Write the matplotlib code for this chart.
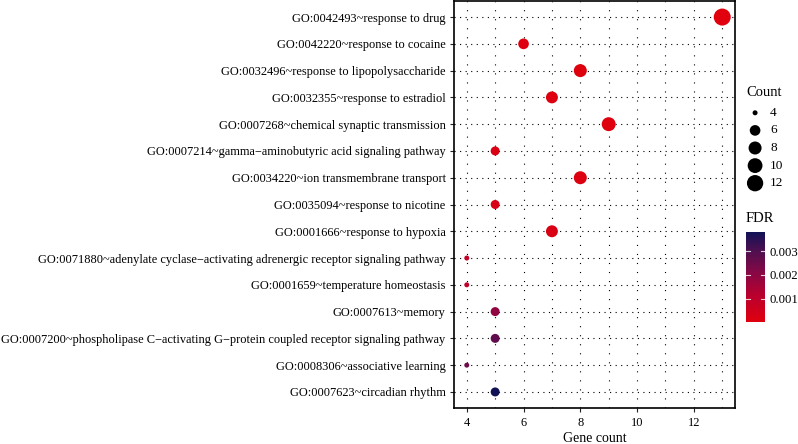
import numpy as np
import matplotlib
matplotlib.use('Agg')
import matplotlib.pyplot as plt
from matplotlib.colors import LinearSegmentedColormap, Normalize

plt.rcParams['font.family'] = ['Liberation Serif', 'DejaVu Serif']
plt.rcParams['lines.scale_dashes'] = False

terms = [
    'GO:0042493~response to drug',
    'GO:0042220~response to cocaine',
    'GO:0032496~response to lipopolysaccharide',
    'GO:0032355~response to estradiol',
    'GO:0007268~chemical synaptic transmission',
    'GO:0007214~gamma\u2212aminobutyric acid signaling pathway',
    'GO:0034220~ion transmembrane transport',
    'GO:0035094~response to nicotine',
    'GO:0001666~response to hypoxia',
    'GO:0071880~adenylate cyclase\u2212activating adrenergic receptor signaling pathway',
    'GO:0001659~temperature homeostasis',
    'GO:0007613~memory',
    'GO:0007200~phospholipase C\u2212activating G\u2212protein coupled receptor signaling pathway',
    'GO:0008306~associative learning',
    'GO:0007623~circadian rhythm',
]
counts = [13, 6, 8, 7, 9, 5, 8, 5, 7, 4, 4, 5, 5, 4, 5]
fdr = [0.00002, 0.00005, 0.00004, 0.00008, 0.00006, 0.0002, 0.00015, 0.0003, 0.0002,
       0.0009, 0.0010, 0.0019, 0.0027, 0.0025, 0.0038]

size_breaks = [4, 6, 8, 10, 12]
fdr_ticks = [0.001, 0.002, 0.003]

cmap = LinearSegmentedColormap.from_list(
    'fdr', [(0, '#E0000E'), (0.3, '#B8002E'), (0.55, '#860845'),
            (0.8, '#4C0F50'), (1, '#111256')])
norm = Normalize(min(fdr), max(fdr))


def dot_size(c):
    c = np.asarray(c, dtype=float)
    ggsize = 1 + 5 * np.sqrt((c - 4) / 9)
    d_px = 2.4 * ggsize + 2.6
    return (d_px * 0.72) ** 2


fig = plt.figure(figsize=(7.98, 4.44), dpi=100)
ax = fig.add_axes([454 / 798, 1 - 408 / 444, 281 / 798, 407 / 444])

ypos = np.arange(len(terms))[::-1]
for x in range(4, 14):
    ax.axvline(x, color='black', lw=0.8, ls=(0, (0.8, 5.7)), zorder=0)
for y in ypos:
    ax.axhline(y, color='black', lw=0.8, ls=(0, (0.8, 3.2)), zorder=0)

ax.scatter(counts, ypos, s=dot_size(counts), c=fdr, cmap=cmap, norm=norm,
           edgecolors='none', zorder=3)

ax.set_xlim(3.55, 13.45)
ax.set_ylim(-0.6, len(terms) - 0.4)
ax.set_xticks([4, 6, 8, 10, 12])
ax.set_yticks(ypos)
ax.set_yticklabels(terms)
ax.tick_params(axis='both', labelsize=8.9, length=3, width=0.8, color='#222222')
ax.tick_params(axis='y', pad=3)
ax.set_xlabel('Gene count', fontsize=10, labelpad=2)
for sp in ax.spines.values():
    sp.set_linewidth(1.2)

# size legend
fig.text(746 / 798, 1 - 93 / 444, 'Count', fontsize=10.5, va='center', ha='left')
lax = fig.add_axes([740 / 798, 1 - 192 / 444, 58 / 798, 88 / 444])
lax.set_xlim(0, 1)
lax.set_ylim(len(size_breaks) - 0.5, -0.5)
lax.axis('off')
for i, b in enumerate(size_breaks):
    lax.scatter(0.26, i, s=dot_size(b), color='black', edgecolors='none')
    lax.text(0.52, i, str(b), fontsize=9.5, va='center', ha='left')

# colour bar
fig.text(746 / 798, 1 - 218 / 444, 'FDR', fontsize=10.5, va='center', ha='left')
cax = fig.add_axes([746 / 798, 1 - 322 / 444, 19 / 798, 90 / 444])
sm = plt.cm.ScalarMappable(norm=norm, cmap=cmap)
cb = fig.colorbar(sm, cax=cax, ticks=fdr_ticks)
cb.outline.set_visible(False)
cb.ax.tick_params(labelsize=9.2, length=0, pad=3)
for t in fdr_ticks:
    cax.plot([0, 0.2], [t, t], color='white', lw=0.8, alpha=0.8)
    cax.plot([0.8, 1], [t, t], color='white', lw=0.8, alpha=0.8)
cax.set_xlim(0, 1)

fig.savefig('out.png', dpi=100)
